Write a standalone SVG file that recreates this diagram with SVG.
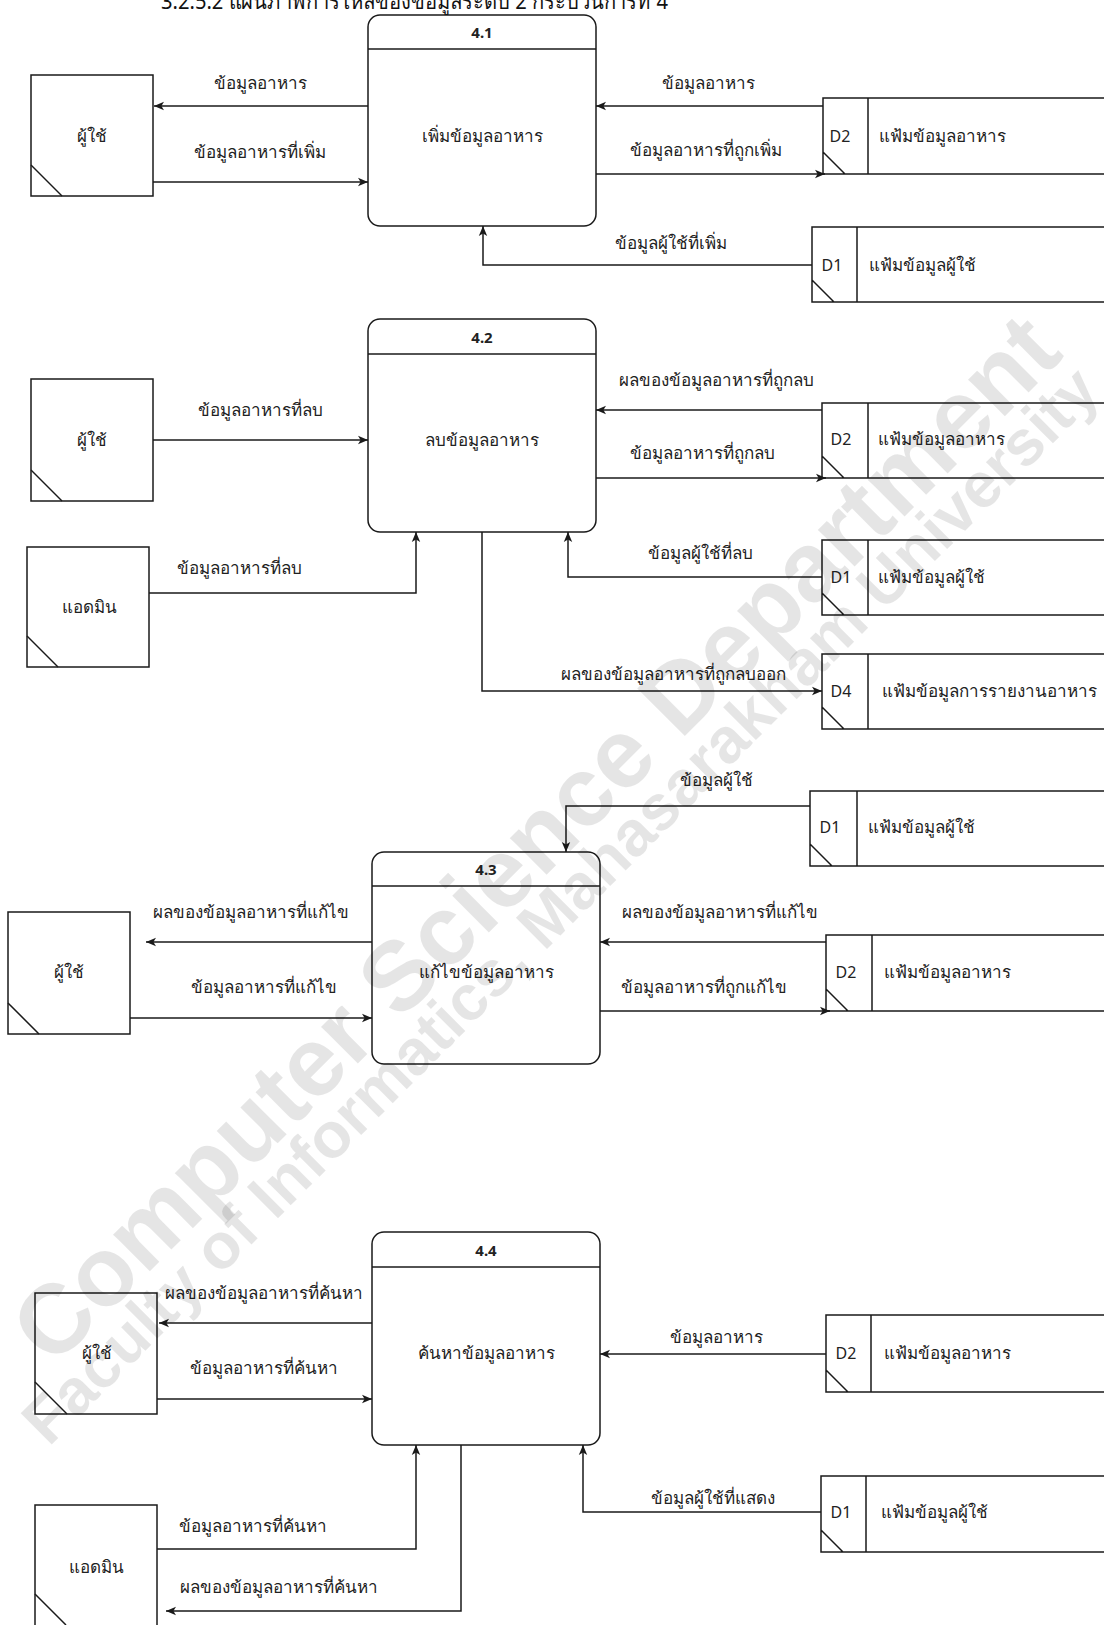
<svg xmlns="http://www.w3.org/2000/svg" width="1104" height="1625" viewBox="0 0 1104 1625">
  <defs>
    <marker id="arr" viewBox="0 0 10 10" refX="10" refY="5" markerWidth="10" markerHeight="10" markerUnits="userSpaceOnUse" orient="auto">
      <path d="M0,0.8 L10,5 L0,9.2 L2.6,5 z" fill="#1a1a1a"/>
    </marker>
    <style>
      .ln { fill:none; stroke:#1a1a1a; stroke-width:1.5; }
      .bx { fill:#ffffff; stroke:#1a1a1a; stroke-width:1.5; }
      .t { font-family:'Noto Sans','DejaVu Sans',sans-serif; font-size:17px; fill:#222222; }
      .d { font-family:'Noto Sans','DejaVu Sans',sans-serif; font-size:16px; fill:#222222; text-anchor:middle; }
      .m { text-anchor:middle; }
      .b { font-family:'Noto Sans','DejaVu Sans',sans-serif; font-size:15px; font-weight:bold; fill:#222222; text-anchor:middle; }
      .title { font-family:'Noto Sans','DejaVu Sans',sans-serif; font-size:22px; fill:#111111; }
      .wm { font-family:'Liberation Sans',Arial,sans-serif; font-weight:bold; fill:#000000; fill-opacity:0.1; text-anchor:middle; dominant-baseline:central; }
    </style>
  </defs>
  <rect x="0" y="0" width="1104" height="1625" fill="#ffffff"/>

  <text class="title" x="161" y="9" textLength="507" lengthAdjust="spacingAndGlyphs">3.2.5.2 แผนภาพการไหลของข้อมูลระดับ 2 กระบวนการที่ 4</text>

  <!-- ===== Section 4.1 ===== -->
  <g id="p41">
    <rect class="bx" x="368" y="15" width="228" height="211" rx="12"/>
    <line class="ln" x1="368" y1="49" x2="596" y2="49"/>
    <text class="b" x="482" y="38">4.1</text>
    <text class="t m" x="482" y="142">เพิ่มข้อมูลอาหาร</text>
  </g>
  <g id="e41-user">
    <rect class="bx" x="31" y="75" width="122" height="121"/>
    <line class="ln" x1="31" y1="165" x2="62" y2="196"/>
    <text class="t m" x="92" y="142">ผู้ใช้</text>
  </g>
  <g id="d41-d2">
    <path class="ln" d="M1104,98 H823 V174 H1104 M868,98 V174 M823,152 L845,174"/>
    <text class="d" x="840" y="142">D2</text>
    <text class="t" x="879" y="142">แฟ้มข้อมูลอาหาร</text>
  </g>
  <g id="d41-d1">
    <path class="ln" d="M1104,227 H812 V302 H1104 M857,227 V302 M812,280 L834,302"/>
    <text class="d" x="832" y="271">D1</text>
    <text class="t" x="869" y="271">แฟ้มข้อมูลผู้ใช้</text>
  </g>

  <!-- ===== Section 4.2 ===== -->
  <g id="p42">
    <rect class="bx" x="368" y="319" width="228" height="213" rx="12"/>
    <line class="ln" x1="368" y1="354" x2="596" y2="354"/>
    <text class="b" x="482" y="343">4.2</text>
    <text class="t m" x="482" y="446">ลบข้อมูลอาหาร</text>
  </g>
  <g id="e42-user">
    <rect class="bx" x="31" y="379" width="122" height="122"/>
    <line class="ln" x1="31" y1="470" x2="62" y2="501"/>
    <text class="t m" x="92" y="446">ผู้ใช้</text>
  </g>
  <g id="e42-admin">
    <rect class="bx" x="27" y="547" width="122" height="120"/>
    <line class="ln" x1="27" y1="636" x2="58" y2="667"/>
    <text class="t m" x="89" y="613">แอดมิน</text>
  </g>
  <g id="d42-d2">
    <path class="ln" d="M1104,403 H822 V478 H1104 M868,403 V478 M822,456 L844,478"/>
    <text class="d" x="841" y="445">D2</text>
    <text class="t" x="878" y="445">แฟ้มข้อมูลอาหาร</text>
  </g>
  <g id="d42-d1">
    <path class="ln" d="M1104,540 H822 V615 H1104 M868,540 V615 M822,593 L844,615"/>
    <text class="d" x="841" y="583">D1</text>
    <text class="t" x="878" y="583">แฟ้มข้อมูลผู้ใช้</text>
  </g>
  <g id="d42-d4">
    <path class="ln" d="M1104,654 H822 V729 H1104 M868,654 V729 M822,707 L844,729"/>
    <text class="d" x="841" y="697">D4</text>
    <text class="t m" x="989" y="697">แฟ้มข้อมูลการรายงานอาหาร</text>
  </g>

  <!-- ===== Section 4.3 ===== -->
  <g id="p43">
    <rect class="bx" x="372" y="852" width="228" height="212" rx="12"/>
    <line class="ln" x1="372" y1="886" x2="600" y2="886"/>
    <text class="b" x="486" y="875">4.3</text>
    <text class="t m" x="486" y="978">แก้ไขข้อมูลอาหาร</text>
  </g>
  <g id="e43-user">
    <rect class="bx" x="8" y="912" width="122" height="122"/>
    <line class="ln" x1="8" y1="1003" x2="39" y2="1034"/>
    <text class="t m" x="69" y="978">ผู้ใช้</text>
  </g>
  <g id="d43-d1">
    <path class="ln" d="M1104,791 H810 V866 H1104 M857,791 V866 M810,844 L832,866"/>
    <text class="d" x="830" y="833">D1</text>
    <text class="t" x="868" y="833">แฟ้มข้อมูลผู้ใช้</text>
  </g>
  <g id="d43-d2">
    <path class="ln" d="M1104,935 H826 V1011 H1104 M872,935 V1011 M826,989 L848,1011"/>
    <text class="d" x="846" y="978">D2</text>
    <text class="t" x="884" y="978">แฟ้มข้อมูลอาหาร</text>
  </g>

  <!-- ===== Section 4.4 ===== -->
  <g id="p44">
    <rect class="bx" x="372" y="1232" width="228" height="213" rx="12"/>
    <line class="ln" x1="372" y1="1267" x2="600" y2="1267"/>
    <text class="b" x="486" y="1256">4.4</text>
    <text class="t m" x="486" y="1359">ค้นหาข้อมูลอาหาร</text>
  </g>
  <g id="e44-user">
    <rect class="bx" x="35" y="1293" width="122" height="121"/>
    <line class="ln" x1="35" y1="1382" x2="67" y2="1414"/>
    <text class="t m" x="97" y="1359">ผู้ใช้</text>
  </g>
  <g id="e44-admin">
    <rect class="bx" x="35" y="1505" width="122" height="130"/>
    <line class="ln" x1="35" y1="1594" x2="66" y2="1625"/>
    <text class="t m" x="96" y="1573">แอดมิน</text>
  </g>
  <g id="d44-d2">
    <path class="ln" d="M1104,1315 H826 V1392 H1104 M871,1315 V1392 M826,1370 L848,1392"/>
    <text class="d" x="846" y="1359">D2</text>
    <text class="t" x="884" y="1359">แฟ้มข้อมูลอาหาร</text>
  </g>
  <g id="d44-d1">
    <path class="ln" d="M1104,1476 H821 V1552 H1104 M866,1476 V1552 M821,1530 L843,1552"/>
    <text class="d" x="841" y="1518">D1</text>
    <text class="t" x="881" y="1518">แฟ้มข้อมูลผู้ใช้</text>
  </g>

  <!-- ===== Connectors ===== -->
  <g id="connectors">
    <!-- 4.1 -->
    <path class="ln" marker-end="url(#arr)" d="M368,106 H154"/>
    <path class="ln" marker-end="url(#arr)" d="M153,182 H368"/>
    <path class="ln" marker-end="url(#arr)" d="M823,106 H596"/>
    <path class="ln" marker-end="url(#arr)" d="M596,174 H825"/>
    <path class="ln" marker-end="url(#arr)" d="M812,265 H483 V226"/>
    <!-- 4.2 -->
    <path class="ln" marker-end="url(#arr)" d="M153,440 H368"/>
    <path class="ln" marker-end="url(#arr)" d="M149,593 H416 V532"/>
    <path class="ln" marker-end="url(#arr)" d="M822,410 H596"/>
    <path class="ln" marker-end="url(#arr)" d="M596,478 H826"/>
    <path class="ln" marker-end="url(#arr)" d="M822,577 H568 V532"/>
    <path class="ln" marker-end="url(#arr)" d="M482,532 V691 H822"/>
    <!-- 4.3 -->
    <path class="ln" marker-end="url(#arr)" d="M810,806 H566 V852"/>
    <path class="ln" marker-end="url(#arr)" d="M372,942 H146"/>
    <path class="ln" marker-end="url(#arr)" d="M130,1018 H372"/>
    <path class="ln" marker-end="url(#arr)" d="M826,942 H600"/>
    <path class="ln" marker-end="url(#arr)" d="M600,1011 H830"/>
    <!-- 4.4 -->
    <path class="ln" marker-end="url(#arr)" d="M372,1323 H159"/>
    <path class="ln" marker-end="url(#arr)" d="M157,1399 H372"/>
    <path class="ln" marker-end="url(#arr)" d="M157,1549 H416 V1445"/>
    <path class="ln" marker-end="url(#arr)" d="M461,1445 V1611 H166"/>
    <path class="ln" marker-end="url(#arr)" d="M826,1354 H600"/>
    <path class="ln" marker-end="url(#arr)" d="M821,1512 H583 V1445"/>
  </g>

  <!-- ===== Connector labels ===== -->
  <g id="labels" class="t m">
    <text x="260" y="89">ข้อมูลอาหาร</text>
    <text x="260" y="158">ข้อมูลอาหารที่เพิ่ม</text>
    <text x="708" y="89">ข้อมูลอาหาร</text>
    <text x="706" y="156">ข้อมูลอาหารที่ถูกเพิ่ม</text>
    <text x="671" y="249">ข้อมูลผู้ใช้ที่เพิ่ม</text>

    <text x="260" y="416">ข้อมูลอาหารที่ลบ</text>
    <text x="239" y="574">ข้อมูลอาหารที่ลบ</text>
    <text x="716" y="386">ผลของข้อมูลอาหารที่ถูกลบ</text>
    <text x="702" y="459">ข้อมูลอาหารที่ถูกลบ</text>
    <text x="700" y="559">ข้อมูลผู้ใช้ที่ลบ</text>
    <text x="673" y="680">ผลของข้อมูลอาหารที่ถูกลบออก</text>

    <text x="716" y="786">ข้อมูลผู้ใช้</text>
    <text x="251" y="918">ผลของข้อมูลอาหารที่แก้ไข</text>
    <text x="264" y="993">ข้อมูลอาหารที่แก้ไข</text>
    <text x="720" y="918">ผลของข้อมูลอาหารที่แก้ไข</text>
    <text x="704" y="993">ข้อมูลอาหารที่ถูกแก้ไข</text>

    <text x="264" y="1299">ผลของข้อมูลอาหารที่ค้นหา</text>
    <text x="264" y="1374">ข้อมูลอาหารที่ค้นหา</text>
    <text x="253" y="1532">ข้อมูลอาหารที่ค้นหา</text>
    <text x="279" y="1593">ผลของข้อมูลอาหารที่ค้นหา</text>
    <text x="716" y="1343">ข้อมูลอาหาร</text>
    <text x="713" y="1504">ข้อมูลผู้ใช้ที่แสดง</text>
  </g>

  <!-- ===== Watermark ===== -->
  <g id="watermark">
    <text class="wm" font-size="98" transform="translate(535,838) rotate(-45)">Computer Science Department</text>
    <text class="wm" font-size="64" transform="translate(560,905) rotate(-45)">Faculty of Informatics, Mahasarakham University</text>
  </g>
</svg>
